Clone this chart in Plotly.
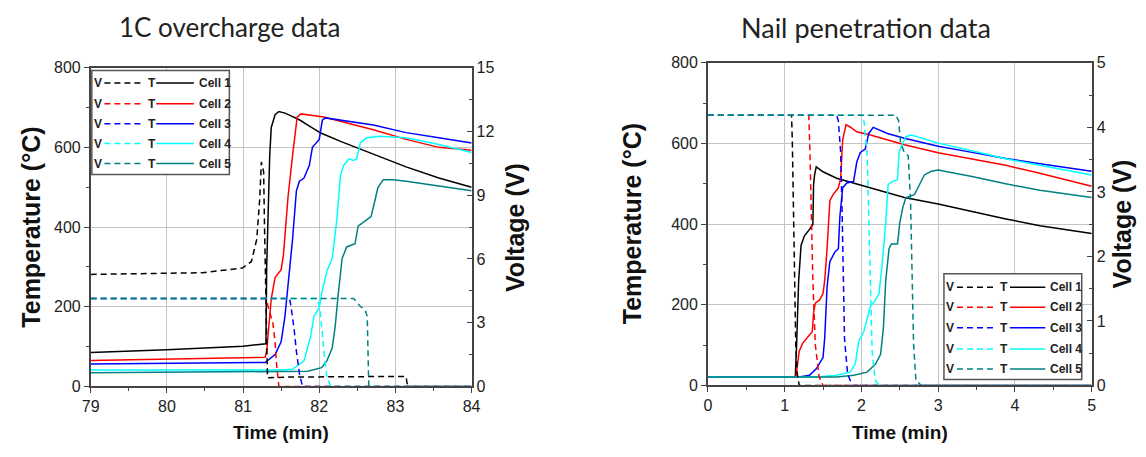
import plotly.graph_objects as go

# ---------------- 1C overcharge test ----------------
# time in min, temperature in deg C (left axis), voltage in V (right axis)
oc_c1_time = [79.0, 80.0, 81.0, 81.30, 81.31, 81.33, 81.35, 81.37, 81.42, 81.47, 81.55, 81.63,
              81.75, 81.85, 82.02, 82.28, 82.71, 83.14, 83.57, 84.0]
oc_c1_temp = [85, 92, 101, 107, 300, 470, 580, 650, 682, 690, 686, 679,
              668, 656, 636, 615, 583, 551, 523, 500]
oc_c2_time = [79.0, 81.29, 81.31, 81.33, 81.37, 81.42, 81.50, 81.53, 81.59, 81.65, 81.71, 81.76,
              82.06, 82.71, 83.14, 83.57, 84.0]
oc_c2_temp = [65, 73, 90, 140, 220, 273, 293, 330, 475, 580, 676, 684,
              676, 644, 620, 600, 593]
oc_c3_time = [79.0, 81.29, 81.42, 81.50, 81.55, 81.59, 81.65, 81.70, 81.74, 81.80, 81.87, 81.91,
              82.00, 82.04, 82.08, 82.71, 83.14, 83.57, 84.0]
oc_c3_temp = [56, 60, 80, 112, 176, 249, 370, 491, 515, 523, 555, 600,
              620, 668, 674, 656, 637, 624, 611]
oc_c4_time = [79.0, 81.50, 81.65, 81.80, 81.89, 81.93, 82.00, 82.04, 82.10, 82.17, 82.23, 82.28,
              82.32, 82.39, 82.45, 82.49, 82.54, 82.62, 82.79, 83.14, 83.57, 84.0]
oc_c4_temp = [41, 41, 43, 64, 128, 176, 197, 241, 289, 321, 418, 531,
              555, 571, 567, 571, 611, 624, 628, 624, 607, 587]
oc_c5_time = [79.0, 81.85, 82.03, 82.10, 82.17, 82.21, 82.25, 82.30, 82.36, 82.47, 82.51, 82.62,
              82.68, 82.73, 82.77, 82.84, 82.97, 83.14, 83.57, 84.0]
oc_c5_temp = [34, 38, 47, 64, 96, 152, 233, 321, 350, 358, 402, 418,
              426, 466, 499, 519, 519, 515, 503, 491]

oc_c1_vtime = [79.0, 80.47, 80.99, 81.11, 81.18, 81.22, 81.24, 81.27, 81.28, 81.30, 81.31, 81.32,
               81.63, 82.28, 83.14, 83.15, 83.17, 84.0]
oc_c1_volt = [5.27, 5.35, 5.57, 5.88, 6.93, 8.9, 10.56, 10.1, 7.84, 3.61, 0.89, 0.41,
              0.44, 0.45, 0.47, 0.2, 0.0, 0.0]
oc_c2_vtime = [79.0, 81.30, 81.34, 81.39, 81.42, 81.44, 81.47, 84.0]
oc_c2_volt = [4.14, 4.14, 3.61, 3.0, 2.1, 1.03, 0.0, 0.0]
oc_c3_vtime = [79.0, 81.61, 81.63, 81.67, 81.70, 81.74, 81.78, 84.0]
oc_c3_volt = [4.14, 4.14, 3.75, 2.7, 1.65, 0.6, 0.0, 0.0]
oc_c4_vtime = [79.0, 81.98, 82.01, 82.04, 82.07, 82.10, 82.15, 84.0]
oc_c4_volt = [4.14, 4.14, 3.6, 2.4, 1.35, 0.45, 0.0, 0.0]
oc_c5_vtime = [79.0, 82.45, 82.54, 82.60, 82.63, 82.64, 82.65, 84.0]
oc_c5_volt = [4.14, 4.14, 3.76, 3.61, 3.3, 1.35, 0.0, 0.0]

# ---------------- Nail penetration test ----------------
np_c1_time = [0.0, 1.139, 1.156, 1.183, 1.214, 1.258, 1.324, 1.368, 1.377, 1.39, 1.412, 1.50,
              1.677, 2.118, 2.56, 3.0, 3.442, 3.883, 4.325, 5.0]
np_c1_temp = [21, 21, 101, 260, 347, 371, 387, 399, 498, 522, 542, 530,
              514, 490, 466, 450, 431, 413, 396, 377]
np_c2_time = [0.0, 1.147, 1.19, 1.236, 1.324, 1.36, 1.377, 1.40, 1.456, 1.50, 1.522, 1.553,
              1.589, 1.633, 1.70, 1.73, 1.756, 1.80, 1.853, 1.94, 2.118, 2.56, 3.0, 3.44,
              3.88, 4.325, 5.0]
np_c2_temp = [21, 21, 85, 105, 125, 133, 180, 204, 212, 228, 260, 339,
              458, 474, 490, 514, 609, 647, 641, 629, 621, 597, 577, 562,
              546, 526, 494]
np_c3_time = [0.0, 1.19, 1.324, 1.412, 1.50, 1.522, 1.553, 1.589, 1.655, 1.70, 1.72, 1.756,
              1.81, 1.898, 1.94, 1.986, 2.05, 2.096, 2.154, 2.34, 2.56, 3.0, 3.44, 3.88,
              4.325, 5.0]
np_c3_temp = [21, 21, 25, 41, 69, 117, 244, 307, 331, 339, 419, 490,
              502, 506, 554, 578, 586, 625, 640, 625, 613, 593, 578, 563,
              550, 531]
np_c4_time = [0.0, 1.412, 1.677, 1.853, 1.92, 1.964, 2.03, 2.074, 2.118, 2.184, 2.23, 2.27,
              2.317, 2.348, 2.405, 2.47, 2.49, 2.54, 2.58, 2.65, 3.0, 3.44, 3.88, 4.325, 5.0]
np_c4_temp = [21, 21, 25, 33, 53, 109, 133, 164, 196, 212, 228, 300,
              403, 498, 506, 510, 578, 601, 617, 621, 601, 582, 562, 546, 522]
np_c5_time = [0.0, 1.677, 1.90, 2.074, 2.184, 2.25, 2.286, 2.317, 2.36, 2.39, 2.47, 2.50,
              2.54, 2.58, 2.69, 2.76, 2.82, 2.91, 3.0, 3.44, 3.88, 4.325, 5.0]
np_c5_temp = [21, 21, 25, 33, 53, 77, 141, 260, 339, 351, 351, 403,
              442, 466, 473, 498, 522, 531, 534, 518, 500, 484, 466]

np_c1_vtime = [0.0, 1.09, 1.10, 1.115, 1.13, 1.145, 1.165, 1.19, 5.0]
np_c1_volt = [4.19, 4.19, 3.81, 2.62, 1.62, 0.63, 0.18, 0.0, 0.0]
np_c2_vtime = [0.0, 1.315, 1.33, 1.346, 1.368, 1.40, 1.45, 1.50, 5.0]
np_c2_volt = [4.19, 4.19, 3.61, 2.62, 1.62, 0.63, 0.13, 0.0, 0.0]
np_c3_vtime = [0.0, 1.677, 1.70, 1.73, 1.75, 1.765, 1.78, 1.82, 1.88, 5.0]
np_c3_volt = [4.19, 4.19, 4.1, 3.61, 2.62, 1.62, 0.73, 0.18, 0.0, 0.0]
np_c4_vtime = [0.0, 2.02, 2.035, 2.074, 2.096, 2.12, 2.14, 2.18, 2.23, 5.0]
np_c4_volt = [4.19, 4.19, 4.08, 3.61, 2.62, 1.38, 0.53, 0.08, 0.0, 0.0]
np_c5_vtime = [0.0, 2.45, 2.485, 2.51, 2.56, 2.61, 2.64, 2.66, 2.68, 2.71, 2.78, 5.0]
np_c5_volt = [4.19, 4.19, 4.1, 3.76, 3.61, 3.56, 2.86, 1.62, 0.63, 0.08, 0.0, 0.0]

cell_names = ["Cell 1", "Cell 2", "Cell 3", "Cell 4", "Cell 5"]
cell_colors = ["#000000", "#ff0000", "#0000ff", "#00ffff", "#008080"]
panel_titles = ["1C overcharge data", "Nail penetration data"]
oc_time_ticks = [79, 80, 81, 82, 83, 84]
np_time_ticks = [0, 1, 2, 3, 4, 5]
temp_ticks = [0, 200, 400, 600, 800]
oc_volt_ticks = [0, 3, 6, 9, 12, 15]
np_volt_ticks = [0, 1, 2, 3, 4, 5]

oc_temp = [(oc_c1_time, oc_c1_temp), (oc_c2_time, oc_c2_temp), (oc_c3_time, oc_c3_temp),
           (oc_c4_time, oc_c4_temp), (oc_c5_time, oc_c5_temp)]
oc_volt = [(oc_c1_vtime, oc_c1_volt), (oc_c2_vtime, oc_c2_volt), (oc_c3_vtime, oc_c3_volt),
           (oc_c4_vtime, oc_c4_volt), (oc_c5_vtime, oc_c5_volt)]
np_temp = [(np_c1_time, np_c1_temp), (np_c2_time, np_c2_temp), (np_c3_time, np_c3_temp),
           (np_c4_time, np_c4_temp), (np_c5_time, np_c5_temp)]
np_volt = [(np_c1_vtime, np_c1_volt), (np_c2_vtime, np_c2_volt), (np_c3_vtime, np_c3_volt),
           (np_c4_vtime, np_c4_volt), (np_c5_vtime, np_c5_volt)]

W, H = 1146, 457
DASH = "6px,4px"
LW = 1.5
TICK_FONT = dict(family="Liberation Sans, Arial, sans-serif", size=16, color="#222222")
VLABEL_FONT = dict(family="Liberation Sans, Arial, sans-serif", size=25, color="#111111")
HLABEL_FONT = dict(family="Liberation Sans, Arial, sans-serif", size=19, color="#111111")
AXIS_COLOR = "#444444"
GRID_COLOR = "#c4c4c4"

fig = go.Figure()

# panel 1 uses x / y (temperature) / y3 (voltage); panel 2 uses x2 / y2 / y4
panels = [
    dict(temp=oc_temp, volt=oc_volt, xa="x", ya="y", yv="y3"),
    dict(temp=np_temp, volt=np_volt, xa="x2", ya="y2", yv="y4"),
]
for p in panels:
    for i in range(5):
        vt, vv = p["volt"][i]
        fig.add_trace(go.Scatter(x=vt, y=vv, mode="lines", xaxis=p["xa"], yaxis=p["yv"],
                                 line=dict(color=cell_colors[i], width=LW, dash=DASH),
                                 name=f"V {cell_names[i]}", showlegend=False))
    for i in range(5):
        tt, tv = p["temp"][i]
        fig.add_trace(go.Scatter(x=tt, y=tv, mode="lines", xaxis=p["xa"], yaxis=p["ya"],
                                 line=dict(color=cell_colors[i], width=LW),
                                 name=f"T {cell_names[i]}", showlegend=False))


def px_x(v):
    return v / W


def px_y(v):
    return 1 - v / H


# plot areas in pixels: (left, right, top, bottom)
box1 = (83, 470, 62, 393)
box2 = (710, 1100, 57, 392)


def xaxis_cfg(box, rng, ticks, anchor):
    return dict(domain=[px_x(box[0]), px_x(box[1])], range=rng, tickvals=ticks, anchor=anchor,
                showline=True, linecolor=AXIS_COLOR, linewidth=1.5, mirror=True,
                ticks="outside", ticklen=5, tickwidth=1, tickcolor=AXIS_COLOR,
                minor=dict(ticks="outside", ticklen=3, dtick=0.5, tickcolor=AXIS_COLOR),
                showgrid=True, gridcolor=GRID_COLOR, gridwidth=1, zeroline=False,
                tickfont=TICK_FONT, fixedrange=True)


def temp_axis_cfg(box, anchor):
    return dict(domain=[px_y(box[3]), px_y(box[2])], range=[0, 800], tickvals=temp_ticks,
                anchor=anchor, showline=True, linecolor=AXIS_COLOR, linewidth=1.5,
                ticks="outside", ticklen=5, tickwidth=1, tickcolor=AXIS_COLOR,
                minor=dict(ticks="outside", ticklen=3, dtick=100, tickcolor=AXIS_COLOR),
                showgrid=True, gridcolor=GRID_COLOR, gridwidth=1, zeroline=False,
                tickfont=TICK_FONT, fixedrange=True)


def volt_axis_cfg(rng, ticks, minor_step, overlay, anchor):
    return dict(range=rng, tickvals=ticks, overlaying=overlay, side="right", anchor=anchor,
                showline=True, linecolor=AXIS_COLOR, linewidth=1.5,
                ticks="inside", ticklen=5, tickwidth=1, tickcolor=AXIS_COLOR,
                minor=dict(ticks="inside", ticklen=3, dtick=minor_step, tickcolor=AXIS_COLOR),
                showgrid=False, zeroline=False, tickfont=TICK_FONT, fixedrange=True)


fig.update_layout(
    width=W, height=H,
    margin=dict(l=0, r=0, t=0, b=0),
    paper_bgcolor="white", plot_bgcolor="white",
    showlegend=False,
    xaxis=xaxis_cfg(box1, [79, 84], oc_time_ticks, "y"),
    yaxis=temp_axis_cfg(box1, "x"),
    yaxis3=volt_axis_cfg([0, 15], oc_volt_ticks, 1.5, "y", "x"),
    xaxis2=xaxis_cfg(box2, [0, 5], np_time_ticks, "y2"),
    yaxis2=temp_axis_cfg(box2, "x2"),
    yaxis4=volt_axis_cfg([0, 5], np_volt_ticks, 0.5, "y2", "x2"),
)

annotations = []
shapes = []

# panel titles
for title, cx, size in [(panel_titles[0], 224, 26), (panel_titles[1], 871, 27)]:
    annotations.append(dict(text=title, x=px_x(cx), y=px_y(20), xref="paper", yref="paper",
                            showarrow=False, xanchor="center", yanchor="middle",
                            font=dict(family="Lato, Open Sans, sans-serif", size=size,
                                      color="#222222")))

# axis titles
for box, tx, vx in [(box1, 22, 514), (box2, 633, 1131)]:
    cy = (box[2] + box[3]) / 2
    annotations.append(dict(text="<b>Temperature (°C)</b>", x=px_x(tx), y=px_y(cy),
                            xref="paper", yref="paper", showarrow=False, textangle=-90,
                            xanchor="center", yanchor="middle", font=VLABEL_FONT))
    annotations.append(dict(text="<b>Voltage (V)</b>", x=px_x(vx), y=px_y(cy),
                            xref="paper", yref="paper", showarrow=False, textangle=-90,
                            xanchor="center", yanchor="middle", font=VLABEL_FONT))
    annotations.append(dict(text="<b>Time (min)</b>", x=px_x((box[0] + box[1]) / 2),
                            y=px_y(441), xref="paper", yref="paper", showarrow=False,
                            xanchor="center", yanchor="middle", font=HLABEL_FONT))

# key boxes: "V - - - T ---- Cell n" rows, placed in axis-domain fractions
legend_specs = [
    dict(xr="x domain", yr="y domain", box=(0.003, 0.364, 0.665, 0.991),
         rows=[0.952, 0.887, 0.824, 0.762, 0.699],
         v=0.018, dash=(0.036, 0.140), t=0.160, solid=(0.172, 0.271), cell=0.278),
    dict(xr="x2 domain", yr="y2 domain", box=(0.615, 0.974, 0.018, 0.346),
         rows=[0.304, 0.242, 0.179, 0.113, 0.051],
         v=0.631, dash=(0.649, 0.749), t=0.772, solid=(0.787, 0.879), cell=0.887),
]
KEY_FONT = dict(family="Liberation Sans, Arial, sans-serif", size=12, color="#222222")
for spec in legend_specs:
    x0, x1, y0, y1 = spec["box"]
    shapes.append(dict(type="rect", xref=spec["xr"], yref=spec["yr"], x0=x0, x1=x1, y0=y0, y1=y1,
                       line=dict(color="#555555", width=1.5), fillcolor="white", layer="above"))
    for i, ry in enumerate(spec["rows"]):
        shapes.append(dict(type="line", xref=spec["xr"], yref=spec["yr"],
                           x0=spec["dash"][0], x1=spec["dash"][1], y0=ry, y1=ry,
                           line=dict(color=cell_colors[i], width=LW, dash=DASH), layer="above"))
        shapes.append(dict(type="line", xref=spec["xr"], yref=spec["yr"],
                           x0=spec["solid"][0], x1=spec["solid"][1], y0=ry, y1=ry,
                           line=dict(color=cell_colors[i], width=LW), layer="above"))
        annotations.append(dict(text="<b>V</b>", x=spec["v"], y=ry, xref=spec["xr"],
                                yref=spec["yr"], showarrow=False, xanchor="center",
                                yanchor="middle", font=KEY_FONT))
        annotations.append(dict(text="<b>T</b>", x=spec["t"], y=ry, xref=spec["xr"],
                                yref=spec["yr"], showarrow=False, xanchor="center",
                                yanchor="middle", font=KEY_FONT))
        annotations.append(dict(text=f"<b>{cell_names[i]}</b>", x=spec["cell"], y=ry,
                                xref=spec["xr"], yref=spec["yr"], showarrow=False,
                                xanchor="left", yanchor="middle", font=KEY_FONT))

fig.update_layout(annotations=annotations, shapes=shapes)

fig.write_html("out.html")
